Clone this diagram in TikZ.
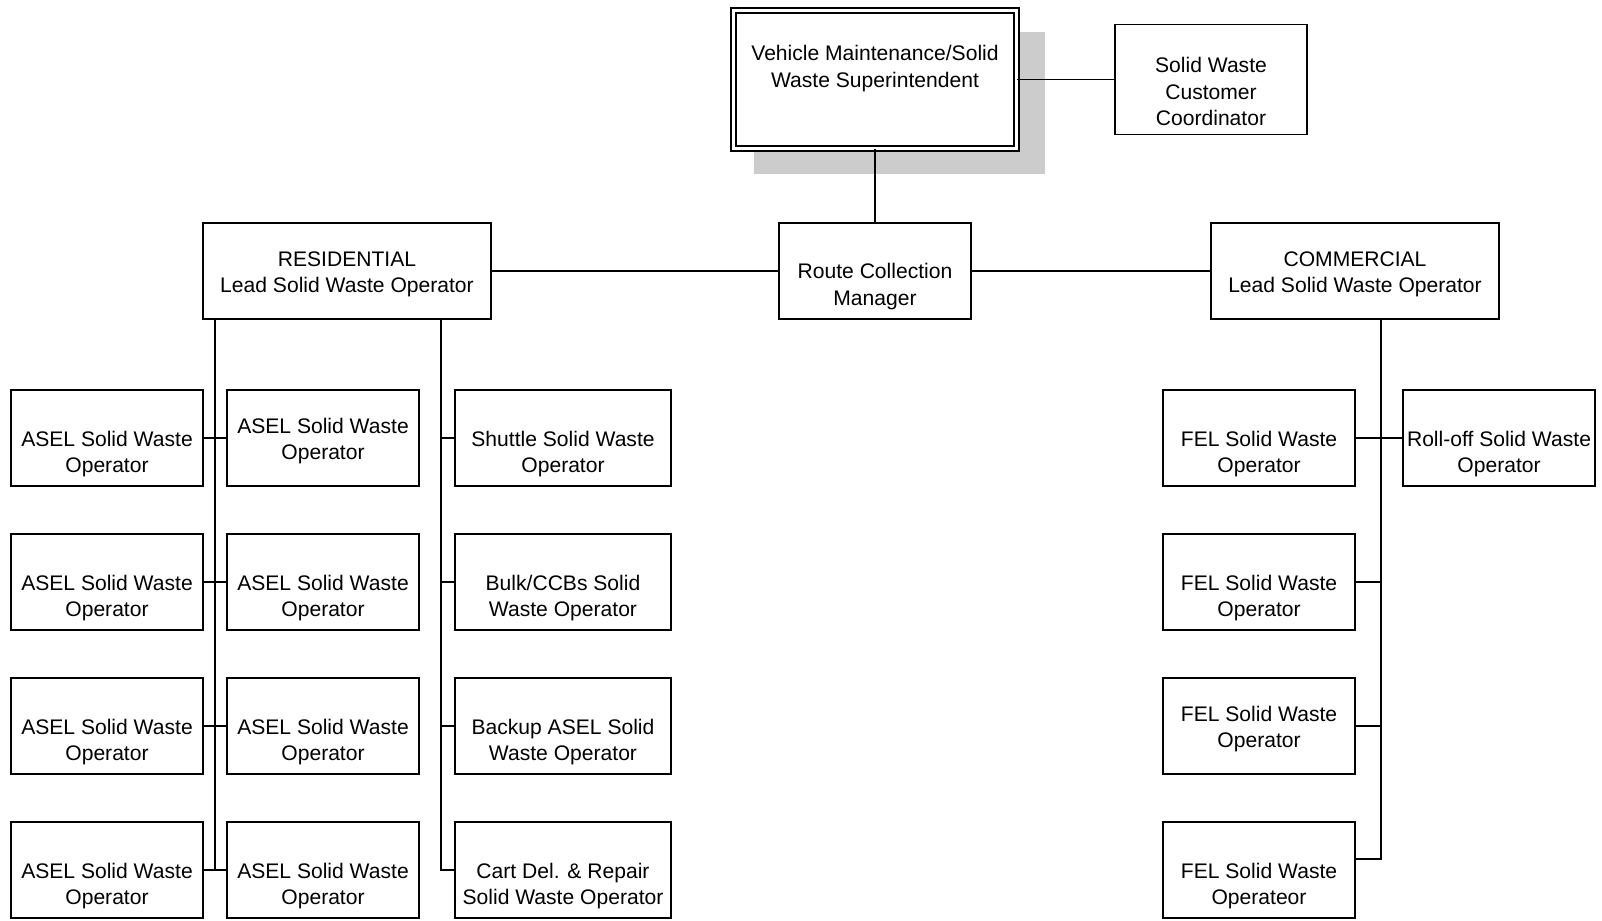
\documentclass[tikz,border=0pt]{standalone}
\usepackage{fontspec}
\setmainfont{Liberation Sans}
\usetikzlibrary{shadows}

\begin{document}
\begin{tikzpicture}[x=0.02cm, y=-0.02cm,
  main node/.style={draw, fill=white, line width=1pt, minimum width=3.84cm, minimum height=1.92cm,
    inner sep=1pt, align=center, font=\fontsize{12}{15}\selectfont,
    execute at begin node={\rule{0pt}{27.4pt}}},
  low node/.style={main node, execute at begin node={\rule{0pt}{41.6pt}}},
  wide node/.style={minimum width=5.76cm}]

  \useasboundingbox (0,0) rectangle (1602,920);

  % top of the chart
  \node[main node, thick, double, double distance=2.2pt, minimum width=5.66cm, minimum height=2.76cm,
    drop shadow={shadow xshift=0.48cm, shadow yshift=-0.46cm, shadow scale=1.03, fill=black!20, opacity=1},
    execute at end node={\rule[-18.5pt]{0pt}{18.5pt}}] (sup) at (875,79.5)
    {Vehicle Maintenance/Solid\\Waste Superintendent};
  \node[main node, minimum height=2.2cm, execute at begin node={\rule{0pt}{52.6pt}}] (cc) at (1211,79.5)
    {Solid Waste\\Customer\\Coordinator};
  \node[low node] (rcm) at (875,270.7) {Route Collection\\Manager};
  \node[main node, wide node] (res) at (347,270.7) {RESIDENTIAL\\Lead Solid Waste Operator};
  \node[main node, wide node] (com) at (1355,270.7) {COMMERCIAL\\Lead Solid Waste Operator};

  % residential
  \node[low node] (a1) at (107,438) {ASEL Solid Waste\\Operator};
  \node[low node] (a2) at (107,582) {ASEL Solid Waste\\Operator};
  \node[low node] (a3) at (107,726) {ASEL Solid Waste\\Operator};
  \node[low node] (a4) at (107,870) {ASEL Solid Waste\\Operator};
  \node[main node] (b1) at (323,438) {ASEL Solid Waste\\Operator};
  \node[low node] (b2) at (323,582) {ASEL Solid Waste\\Operator};
  \node[low node] (b3) at (323,726) {ASEL Solid Waste\\Operator};
  \node[low node] (b4) at (323,870) {ASEL Solid Waste\\Operator};
  \node[low node, minimum width=4.33cm] (s1) at (563,438) {Shuttle Solid Waste\\Operator};
  \node[low node, minimum width=4.33cm] (s2) at (563,582) {Bulk/CCBs Solid\\Waste Operator};
  \node[low node, minimum width=4.33cm] (s3) at (563,726) {Backup ASEL Solid\\Waste Operator};
  \node[low node, minimum width=4.33cm] (s4) at (563,870) {Cart Del. \& Repair\\Solid Waste Operator};

  % commercial
  \node[low node] (f1) at (1259,438) {FEL Solid Waste\\Operator};
  \node[low node] (f2) at (1259,582) {FEL Solid Waste\\Operator};
  \node[main node] (f3) at (1259,726) {FEL Solid Waste\\Operator};
  \node[low node] (f4) at (1259,870) {FEL Solid Waste\\Operateor};
  \node[low node] (ro) at (1499,438) {Roll-off Solid Waste\\Operator};

  \coordinate (rA) at (215,870);
  \coordinate (rB) at (441,870);
  \coordinate (cA) at (1381,859);

  \path[] (sup) [-, line width=1pt] edge (rcm);
  \path[] (sup) [-, line width=1pt] edge (cc);
  \path[] (rcm) [-, line width=1pt] edge (res);
  \path[] (rcm) [-, line width=1pt] edge (com);

  \draw[line width=1pt] (res.south -| rA) -- (rA);
  \path[] (a1) [-, line width=1pt] edge (b1);
  \path[] (a2) [-, line width=1pt] edge (b2);
  \path[] (a3) [-, line width=1pt] edge (b3);
  \path[] (a4) [-, line width=1pt] edge (b4);

  \draw[line width=1pt] (res.south -| rB) -- (rB) -- (s4.west);
  \draw[line width=1pt] (s1.west -| rB) -- (s1.west);
  \draw[line width=1pt] (s2.west -| rB) -- (s2.west);
  \draw[line width=1pt] (s3.west -| rB) -- (s3.west);

  \draw[line width=1pt] (com.south -| cA) -- (cA) -- (cA -| f4.east);
  \path[] (f1) [-, line width=1pt] edge (ro);
  \draw[line width=1pt] (f2.east) -- (f2.east -| cA);
  \draw[line width=1pt] (f3.east) -- (f3.east -| cA);
\end{tikzpicture}
\end{document}
